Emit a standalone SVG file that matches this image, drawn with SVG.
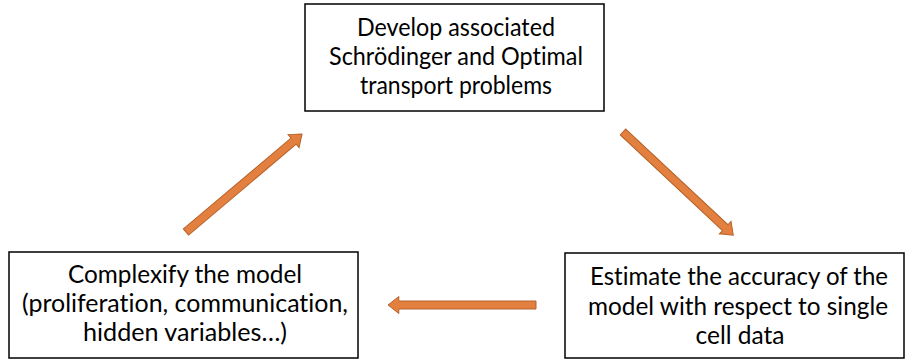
<svg xmlns="http://www.w3.org/2000/svg" width="905" height="360" viewBox="0 0 905 360">
<style>
.box{fill:#fff;stroke:#000;stroke-width:1.5}
.t{font-family:Lato,"Liberation Sans",Arial,sans-serif;font-size:24.5px;fill:#000;text-anchor:middle;font-variant-ligatures:none}
.arr{fill:#E4803F;stroke:#B4622A;stroke-width:1}
</style>
<defs>
<path id="a" d="M0,-4 L140,-4 L140,-8.5 L151,0 L140,8.5 L140,4 L0,4 Z"/>
</defs>
<rect width="905" height="360" fill="#fff"/>
<g id="connectors">
<use href="#a" class="arr" transform="translate(186,232) rotate(-40.2) scale(1.006,1)"/>
<use href="#a" class="arr" transform="translate(623,132) rotate(43.1)"/>
<use href="#a" class="arr" transform="translate(536,305) rotate(180) scale(0.98,1)"/>
</g>
<g id="node-develop">
<rect class="box" x="305" y="4" width="299" height="107"/>
<text class="t" x="456" y="36" textLength="198" lengthAdjust="spacingAndGlyphs">Develop associated</text>
<text class="t" x="456" y="65" textLength="254" lengthAdjust="spacingAndGlyphs">Schrödinger and Optimal</text>
<text class="t" x="456" y="94" textLength="192" lengthAdjust="spacingAndGlyphs">transport problems</text>
</g>
<g id="node-complexify">
<rect class="box" x="9" y="252" width="349" height="106"/>
<text class="t" x="185" y="283" textLength="234" lengthAdjust="spacingAndGlyphs">Complexify the model</text>
<text class="t" x="185" y="312" textLength="326" lengthAdjust="spacingAndGlyphs">(proliferation, communication,</text>
<text class="t" x="185" y="341" textLength="204" lengthAdjust="spacingAndGlyphs">hidden variables…)</text>
</g>
<g id="node-estimate">
<rect class="box" x="565" y="253" width="339" height="105"/>
<text class="t" x="739" y="285" textLength="298" lengthAdjust="spacingAndGlyphs">Estimate the accuracy of the</text>
<text class="t" x="738" y="315" textLength="300" lengthAdjust="spacingAndGlyphs">model with respect to single</text>
<text class="t" x="740" y="344">cell data</text>
</g>
</svg>
